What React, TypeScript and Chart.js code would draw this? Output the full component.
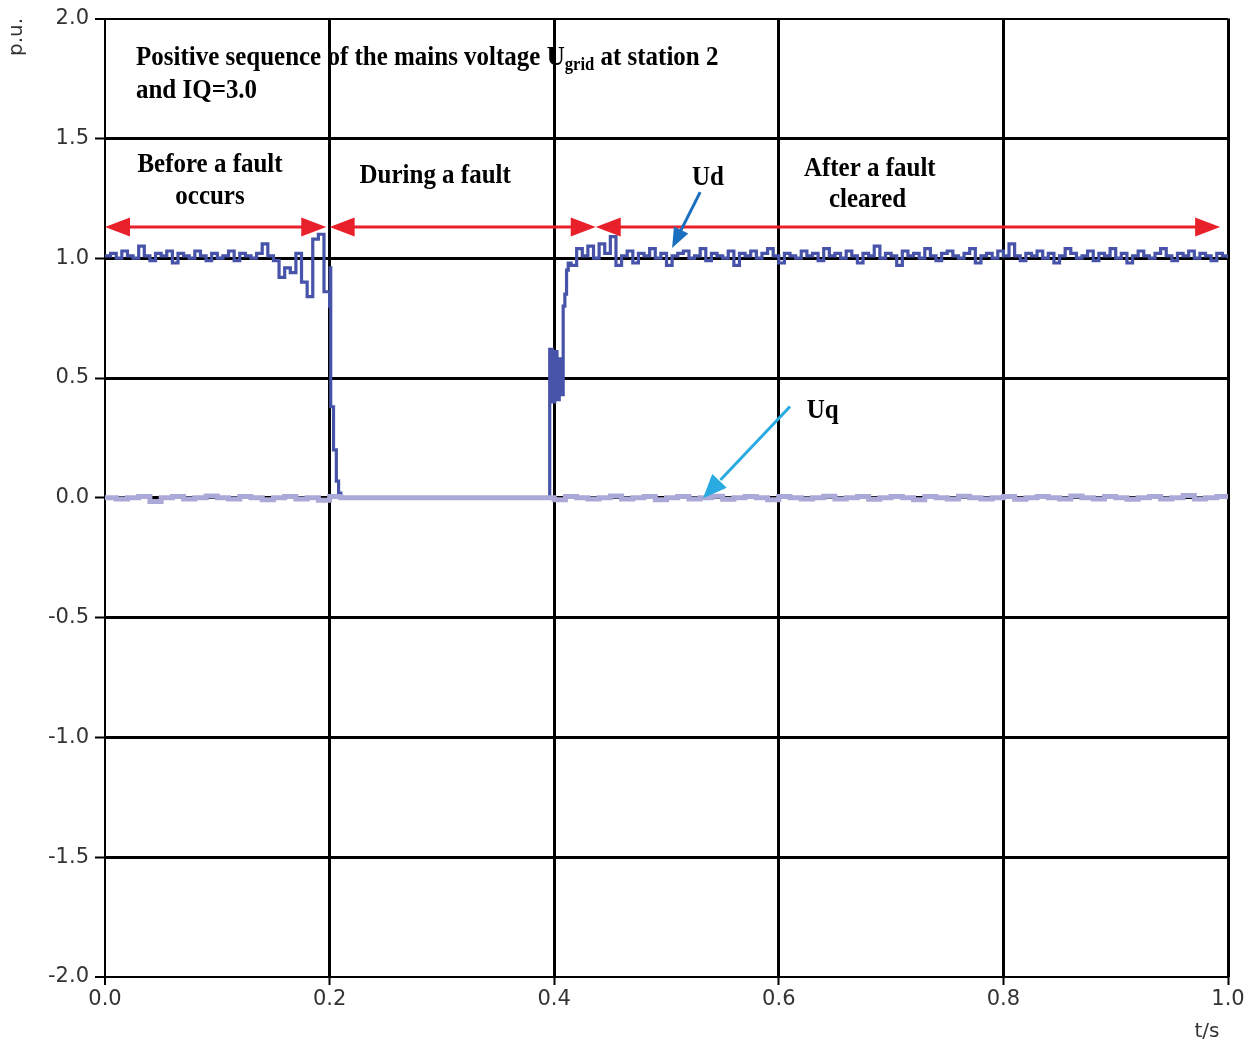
import React, { useEffect, useRef } from "react";
import { Chart, registerables } from "chart.js";

Chart.register(...registerables);

// ---------------- data ----------------
const xTickLabels = ["0.0", "0.2", "0.4", "0.6", "0.8", "1.0"];
const yTickLabels = ["-2.0", "-1.5", "-1.0", "-0.5", "0.0", "0.5", "1.0", "1.5", "2.0"];

// Ud sampled every 0.005 s (t = 0 ... 1.0)
const udStep = 0.005;
const udValues = [
  // 0.000 - 0.145
  1.01, 1.02, 1.0, 1.03, 1.01, 1.0, 1.05, 1.01, 0.99, 1.02,
  1.01, 1.03, 0.98, 1.02, 1.01, 1.0, 1.03, 1.01, 0.99, 1.02,
  1.0, 1.01, 1.03, 0.99, 1.02, 1.01, 1.0, 1.02, 1.06, 1.01,
  // 0.150 - 0.195
  0.99, 0.92, 0.96, 0.94, 1.02, 0.9, 0.84, 1.08, 1.1, 0.86,
  // 0.200 - 0.205
  0.8, 0.07,
  // 0.210 - 0.395 (fault)
  0, 0, 0, 0, 0, 0, 0, 0, 0, 0,
  0, 0, 0, 0, 0, 0, 0, 0, 0, 0,
  0, 0, 0, 0, 0, 0, 0, 0, 0, 0,
  0, 0, 0, 0, 0, 0, 0, 0,
  // 0.400 - 0.455
  0.6, 0.45, 0.86, 0.97, 1.04, 1.01, 1.05, 1.0, 1.06, 1.02, 1.09, 0.97,
  // 0.460 - 1.000
  1.01, 1.03, 0.98, 1.02, 1.01, 1.04, 1.0, 1.02, 0.97, 1.01,
  1.02, 1.03, 1.0, 1.01, 1.04, 0.99, 1.02, 1.01, 1.0, 1.03,
  0.97, 1.02, 1.01, 1.03, 1.0, 1.02, 1.04, 1.01, 0.98, 1.02,
  1.01, 1.0, 1.03, 1.01, 1.02, 0.99, 1.04, 1.01, 1.02, 1.0,
  1.03, 1.01, 0.98, 1.02, 1.01, 1.05, 1.0, 1.02, 1.01, 0.97,
  1.03, 1.01, 1.02, 1.0, 1.04, 1.01, 0.99, 1.02, 1.03, 1.01,
  1.0, 1.02, 1.04, 0.98, 1.01, 1.02, 1.0, 1.03, 1.01, 1.06,
  1.01, 0.99, 1.02, 1.01, 1.03, 1.0, 1.02, 0.98, 1.01, 1.04,
  1.02, 1.0, 1.01, 1.03, 0.99, 1.02, 1.01, 1.04, 1.0, 1.02,
  0.98, 1.01, 1.03, 1.01, 1.0, 1.02, 1.04, 1.01, 0.99, 1.02,
  1.01, 1.03, 1.0, 1.02, 1.01, 0.99, 1.02, 1.01, 1.0,
];

// fine detail of Ud at the fault inception and the recovery
const udDetailTimes = [
  0.2005, 0.201, 0.2035, 0.206, 0.208, 0.21,
  0.3955, 0.396, 0.3985, 0.4005, 0.4025, 0.4045, 0.4065, 0.408, 0.4095, 0.411, 0.4125,
];
const udDetailValues = [
  0.96, 0.38, 0.2, 0.07, 0.02, 0.0,
  0.0, 0.62, 0.4, 0.61, 0.41, 0.58, 0.43, 0.8, 0.85, 0.95, 0.98,
];

// Uq sampled every 0.01 s
const uqStep = 0.01;
const uqValues = [
  0.0, -0.005, 0.0, 0.005, -0.015, 0.0, 0.005, -0.005, 0.0, 0.008,
  0.0, -0.005, 0.005, 0.0, -0.008, 0.0, 0.005, -0.005, 0.0, -0.01, 0.005,
  0, 0, 0, 0, 0, 0, 0, 0, 0, 0, 0, 0, 0, 0, 0, 0, 0, 0, 0,
  -0.008, 0.005, 0.0, -0.005, 0.0, 0.008, -0.005, 0.0, 0.005, -0.008,
  0.0, 0.005, -0.005, 0.0, 0.006, -0.006, 0.0, 0.005, 0.0, -0.008,
  0.005, 0.0, -0.005, 0.0, 0.006, -0.005, 0.0, 0.005, -0.006, 0.0,
  0.005, 0.0, -0.008, 0.005, 0.0, -0.005, 0.006, 0.0, -0.005, 0.0,
  0.005, -0.006, 0.0, 0.005, 0.0, -0.005, 0.008, 0.0, -0.005, 0.005,
  0.0, -0.006, 0.0, 0.005, -0.005, 0.0, 0.01, -0.005, 0.0, 0.005, -0.006,
];

// phase arrows (t start, t end, level)
const phaseArrowStarts = [0.0, 0.2, 0.437];
const phaseArrowEnds = [0.197, 0.437, 0.993];
const phaseArrowLevel = 1.13;

// ---------------- helpers ----------------
function buildUd() {
  const pts: { x: number; y: number }[] = [];
  udValues.forEach((v, i) => {
    const t = +(i * udStep).toFixed(4);
    if ((t > 0.2 && t < 0.215) || (t > 0.395 && t < 0.414)) return;
    pts.push({ x: t, y: v });
  });
  udDetailTimes.forEach((t, i) => pts.push({ x: t, y: udDetailValues[i] }));
  pts.sort((a, b) => a.x - b.x);
  return pts;
}

function buildUq() {
  return uqValues.map((v, i) => ({ x: +(i * uqStep).toFixed(4), y: v }));
}

function arrowHead(ctx: CanvasRenderingContext2D, tx: number, ty: number, fx: number, fy: number, len: number, half: number) {
  const dx = tx - fx;
  const dy = ty - fy;
  const d = Math.hypot(dx, dy) || 1;
  const ux = dx / d;
  const uy = dy / d;
  const bx = tx - ux * len;
  const by = ty - uy * len;
  ctx.beginPath();
  ctx.moveTo(tx, ty);
  ctx.lineTo(bx - uy * half, by + ux * half);
  ctx.lineTo(bx + uy * half, by - ux * half);
  ctx.closePath();
  ctx.fill();
}

const SERIF_FAMILY = "'Liberation Serif', 'Times New Roman', serif";
const SX = 0.925;

// draw condensed serif text; align: 'left' | 'center'
function condText(ctx: CanvasRenderingContext2D, text: string, x: number, y: number, align: "left" | "center", size = 27) {
  ctx.save();
  ctx.font = `bold ${size}px ${SERIF_FAMILY}`;
  ctx.textAlign = align;
  ctx.translate(x, y);
  ctx.scale(SX, 1);
  ctx.fillText(text, 0, 0);
  const w = ctx.measureText(text).width * SX;
  ctx.restore();
  return w;
}

const annotPlugin = {
  id: "annot",
  beforeDraw(chart: any) {
    const ctx: CanvasRenderingContext2D = chart.ctx;
    const xs = chart.scales.x;
    const ys = chart.scales.y;
    const X = (v: number) => xs.getPixelForValue(v);
    const Y = (v: number) => ys.getPixelForValue(v);
    ctx.save();
    ctx.fillStyle = "#000";
    ctx.textBaseline = "alphabetic";
    // title block
    const x0 = X(0.0276);
    const b1 = Y(1.805);
    let w = condText(ctx, "Positive sequence of the mains voltage U", x0, b1, "left");
    const w2 = condText(ctx, "grid", x0 + w, b1 + 5, "left", 18);
    condText(ctx, " at station 2", x0 + w + w2, b1, "left");
    condText(ctx, "and IQ=3.0", x0, Y(1.67), "left");
    // phase labels
    condText(ctx, "Before a fault", X(0.0935), Y(1.36), "center");
    condText(ctx, "occurs", X(0.0935), Y(1.227), "center");
    condText(ctx, "During a fault", X(0.294), Y(1.315), "center");
    condText(ctx, "After a fault", X(0.681), Y(1.345), "center");
    condText(ctx, "cleared", X(0.679), Y(1.212), "center");
    condText(ctx, "Ud", X(0.537), Y(1.305), "center");
    condText(ctx, "Uq", X(0.639), Y(0.333), "center");
    ctx.restore();
  },
  afterDatasetsDraw(chart: any) {
    const ctx: CanvasRenderingContext2D = chart.ctx;
    const xs = chart.scales.x;
    const ys = chart.scales.y;
    const X = (v: number) => xs.getPixelForValue(v);
    const Y = (v: number) => ys.getPixelForValue(v);
    ctx.save();
    // red double arrows
    ctx.strokeStyle = "#e8202a";
    ctx.fillStyle = "#e8202a";
    ctx.lineWidth = 3;
    const yy = Y(phaseArrowLevel);
    phaseArrowStarts.forEach((s, i) => {
      const a = X(s);
      const b = X(phaseArrowEnds[i]);
      ctx.beginPath();
      ctx.moveTo(a + 10, yy);
      ctx.lineTo(b - 10, yy);
      ctx.stroke();
      arrowHead(ctx, a, yy, a + 10, yy, 25, 9.5);
      arrowHead(ctx, b, yy, b - 10, yy, 25, 9.5);
    });
    // Ud pointer
    ctx.strokeStyle = "#1b6fbf";
    ctx.fillStyle = "#1b6fbf";
    ctx.lineWidth = 3;
    let fx = X(0.53), fy = Y(1.276), tx = X(0.505), ty = Y(1.043);
    ctx.beginPath();
    ctx.moveTo(fx, fy);
    ctx.lineTo(tx + (fx - tx) * 0.3, ty + (fy - ty) * 0.3);
    ctx.stroke();
    arrowHead(ctx, tx, ty, fx, fy, 20, 8);
    // Uq pointer
    ctx.strokeStyle = "#29abe2";
    ctx.fillStyle = "#29abe2";
    fx = X(0.61); fy = Y(0.381); tx = X(0.5325); ty = Y(-0.002);
    ctx.beginPath();
    ctx.moveTo(fx, fy);
    ctx.lineTo(tx + (fx - tx) * 0.2, ty + (fy - ty) * 0.2);
    ctx.stroke();
    arrowHead(ctx, tx, ty, fx, fy, 24, 10);
    ctx.restore();
  },
  afterDraw(chart: any) {
    const ctx: CanvasRenderingContext2D = chart.ctx;
    ctx.save();
    ctx.fillStyle = "#333";
    ctx.font = "20px 'DejaVu Sans', sans-serif";
    ctx.textAlign = "center";
    ctx.textBaseline = "middle";
    ctx.fillText("t/s", 1207, 1032);
    ctx.translate(17, 37);
    ctx.rotate(-Math.PI / 2);
    ctx.fillText("p.u.", 0, 0);
    ctx.restore();
  },
};

export default function App() {
  const ref = useRef<HTMLCanvasElement | null>(null);
  useEffect(() => {
    if (!ref.current) return;
    const chart = new Chart(ref.current, {
      type: "line",
      data: {
        datasets: [
          {
            label: "Uq",
            data: buildUq(),
            borderColor: "#aaa9d8",
            borderWidth: 5,
            pointRadius: 0,
            stepped: true,
            fill: false,
          },
          {
            label: "Ud",
            data: buildUd(),
            borderColor: "#4653a8",
            borderWidth: 3.2,
            pointRadius: 0,
            stepped: true,
            fill: false,
          },
        ],
      },
      options: {
        responsive: false,
        animation: false,
        parsing: false as any,
        layout: { padding: { top: 15, right: 27, bottom: 0, left: 0 } },
        plugins: {
          legend: { display: false },
          tooltip: { enabled: false },
        },
        scales: {
          x: {
            type: "linear",
            min: 0,
            max: 1,
            afterFit: (s: any) => {
              s.height = 70;
            },
            afterBuildTicks: (s: any) => {
              s.ticks = xTickLabels.map((l) => ({ value: parseFloat(l) }));
            },
            ticks: {
              callback: (v: any) => Number(v).toFixed(1),
              color: "#333",
              font: { family: "'DejaVu Sans', sans-serif", size: 21 },
              padding: 2,
              maxRotation: 0,
              autoSkip: false,
            },
            grid: {
              color: "#000",
              lineWidth: (c: any) => (c.index === 0 ? 2 : 3),
              tickLength: 8,
              tickWidth: 2,
            },
            border: { display: false },
          },
          y: {
            type: "linear",
            min: -2,
            max: 2,
            afterFit: (s: any) => {
              s.width = 105;
            },
            afterBuildTicks: (s: any) => {
              s.ticks = yTickLabels.map((l) => ({ value: parseFloat(l) }));
            },
            ticks: {
              callback: (v: any) => Number(v).toFixed(1),
              color: "#333",
              font: { family: "'DejaVu Sans', sans-serif", size: 21 },
              padding: 6,
              autoSkip: false,
            },
            grid: {
              color: "#000",
              lineWidth: (c: any) => (c.index === 0 || c.index === 8 ? 2 : 3),
              tickLength: 10,
              tickWidth: 2,
            },
            border: { display: false },
          },
        },
      },
      plugins: [annotPlugin],
    });
    return () => chart.destroy();
  }, []);
  return (
    <div style={{ position: "absolute", left: 0, top: 0, width: 1255, height: 1047, background: "#fff" }}>
      <canvas ref={ref} width={1255} height={1047} style={{ display: "block" }} />
    </div>
  );
}
